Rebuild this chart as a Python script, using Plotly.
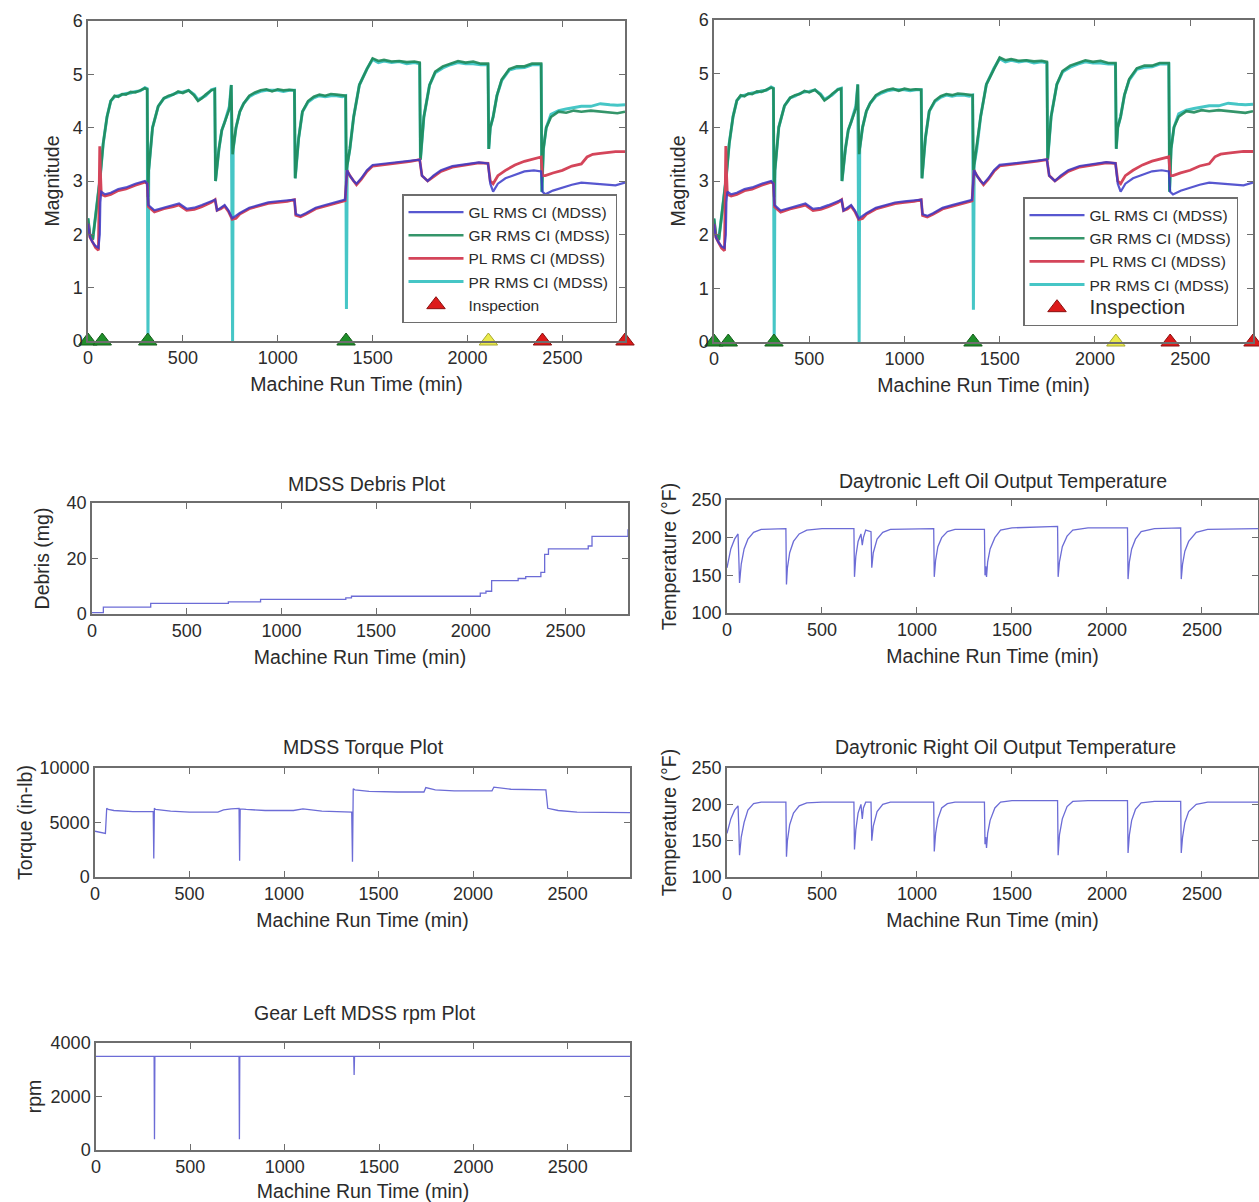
import plotly.graph_objects as go

# ---------------- data ----------------
# Gear / pinion RMS condition indicators, upper pair (GR, PR), one run cycle per line
UPPER_T = ([0, 10, 25, 40, 55, 65, 80, 100, 120, 140, 160, 180, 200, 225, 250, 275, 300, 312]
           + [316, 320, 340, 370, 400, 425, 450, 475, 500, 530, 560, 580, 600, 620, 640, 650, 668]
           + [672, 690, 705, 720, 735, 745, 755, 762]
           + [765, 780, 800, 820, 850, 880, 910, 940, 970, 1000, 1030, 1060, 1088]
           + [1092, 1110, 1130, 1160, 1190, 1220, 1250, 1280, 1310, 1340, 1358]
           + [1362, 1366, 1380, 1400, 1430, 1470, 1500, 1530, 1560, 1600, 1640, 1680, 1720, 1748]
           + [1752, 1770, 1800, 1830, 1870, 1910, 1950, 1990, 2030, 2070, 2108]
           + [2112, 2120, 2135, 2155, 2180, 2220, 2260, 2300, 2340, 2388]
           + [2392, 2400, 2415, 2440, 2480, 2520, 2560, 2600, 2650, 2700, 2750, 2790, 2830])
GR_Y = ([2.3, 2.0, 1.9, 2.3, 2.8, 3.1, 3.7, 4.2, 4.5, 4.6, 4.58, 4.63, 4.62, 4.67, 4.66, 4.7, 4.74, 4.72]
        + [2.7, 3.2, 4.0, 4.4, 4.55, 4.6, 4.62, 4.68, 4.65, 4.7, 4.6, 4.5, 4.55, 4.62, 4.68, 4.7, 4.72]
        + [3.0, 3.6, 3.95, 4.1, 4.25, 4.35, 4.8, 3.5]
        + [3.6, 4.0, 4.3, 4.45, 4.6, 4.66, 4.7, 4.72, 4.68, 4.72, 4.7, 4.71, 4.7]
        + [3.05, 3.8, 4.3, 4.5, 4.58, 4.62, 4.6, 4.63, 4.62, 4.6, 4.6]
        + [3.2, 3.3, 3.6, 4.2, 4.8, 5.1, 5.3, 5.25, 5.27, 5.24, 5.25, 5.23, 5.24, 5.22]
        + [3.4, 4.2, 4.8, 5.05, 5.15, 5.2, 5.25, 5.22, 5.24, 5.2, 5.2]
        + [3.6, 4.0, 4.2, 4.6, 4.9, 5.1, 5.15, 5.15, 5.2, 5.2]
        + [2.8, 3.6, 4.0, 4.2, 4.3, 4.28, 4.32, 4.3, 4.32, 4.3, 4.28, 4.27, 4.3])
PR_Y = ([2.3, 2.0, 1.9, 2.3, 2.8, 3.1, 3.7, 4.2, 4.5, 4.58, 4.6, 4.62, 4.64, 4.65, 4.68, 4.69, 4.75, 4.73]
        + [0.0, 3.2, 4.0, 4.4, 4.55, 4.58, 4.63, 4.66, 4.67, 4.7, 4.62, 4.52, 4.56, 4.6, 4.67, 4.71, 4.73]
        + [3.0, 3.6, 3.95, 4.1, 4.28, 4.4, 4.8, 0.0]
        + [3.6, 4.0, 4.3, 4.45, 4.58, 4.64, 4.68, 4.7, 4.7, 4.7, 4.68, 4.7, 4.7]
        + [3.05, 3.8, 4.3, 4.48, 4.56, 4.6, 4.58, 4.6, 4.6, 4.58, 4.6]
        + [0.6, 3.3, 3.6, 4.2, 4.8, 5.1, 5.28, 5.22, 5.25, 5.22, 5.24, 5.2, 5.22, 5.2]
        + [3.4, 4.2, 4.8, 5.03, 5.12, 5.18, 5.22, 5.2, 5.2, 5.18, 5.18]
        + [3.6, 4.0, 4.2, 4.6, 4.88, 5.08, 5.12, 5.13, 5.18, 5.18]
        + [2.8, 3.6, 4.0, 4.25, 4.32, 4.35, 4.38, 4.4, 4.4, 4.45, 4.43, 4.42, 4.43])

# Lower pair: GL, PL
LOWER_T = [0, 10, 25, 40, 55, 62, 65, 70, 90, 120, 160, 200, 250, 300, 312,
           318, 350, 400, 450, 480, 520, 560, 600, 650, 670,
           680, 700, 720, 740, 760, 780, 800, 850, 900, 950, 1000, 1050, 1088,
           1095, 1120, 1150, 1200, 1250, 1300, 1355,
           1365, 1380, 1400, 1415, 1440, 1470, 1500, 1550, 1600, 1700, 1748,
           1760, 1790, 1820, 1860, 1920, 2000, 2060, 2108,
           2120, 2135, 2160, 2200, 2250, 2300, 2350, 2388,
           2395, 2410, 2450, 2500, 2550, 2600, 2630, 2660, 2700, 2780, 2830]
GL_Y = [2.2, 1.95, 1.85, 1.78, 1.75, 2.0, 2.6, 2.8, 2.75, 2.78, 2.85, 2.88, 2.95, 3.0, 2.95,
        2.55, 2.45, 2.5, 2.55, 2.58, 2.48, 2.5, 2.55, 2.62, 2.65,
        2.45, 2.5, 2.55, 2.45, 2.3, 2.35, 2.4, 2.5, 2.55, 2.6, 2.62, 2.63, 2.65,
        2.38, 2.35, 2.4, 2.5, 2.55, 2.6, 2.65,
        3.2, 3.1, 3.0, 2.95, 3.05, 3.2, 3.3, 3.32, 3.35, 3.38, 3.4,
        3.1, 3.0, 3.1, 3.2, 3.28, 3.32, 3.35, 3.33,
        2.95, 2.8, 2.95, 3.05, 3.12, 3.18, 3.2, 3.18,
        2.8, 2.75, 2.82, 2.88, 2.93, 2.97, 2.96, 2.95, 2.95, 2.92, 2.97]
PL_Y = [2.2, 1.95, 1.85, 1.75, 1.7, 3.65, 3.2, 2.75, 2.72, 2.75, 2.82, 2.85, 2.92, 2.98, 2.95,
        2.52, 2.42, 2.48, 2.52, 2.55, 2.45, 2.47, 2.52, 2.6, 2.65,
        2.45, 2.48, 2.53, 2.43, 2.28, 2.3, 2.38, 2.48, 2.53, 2.58, 2.6, 2.62, 2.65,
        2.36, 2.33, 2.38, 2.48, 2.53, 2.58, 2.63,
        3.2, 3.1, 3.0, 2.93, 3.03, 3.18, 3.28, 3.3, 3.33, 3.37, 3.4,
        3.1, 3.0, 3.08, 3.18, 3.26, 3.3, 3.34, 3.33,
        3.0, 2.95, 3.1, 3.2, 3.3, 3.37, 3.42, 3.45,
        3.1, 3.1, 3.15, 3.2, 3.28, 3.32, 3.45, 3.5, 3.52, 3.55, 3.55]

assert len(UPPER_T) == len(GR_Y) == len(PR_Y)
assert len(LOWER_T) == len(GL_Y) == len(PL_Y)

# Inspection events along the time axis
GOOD_T = [0, 75, 315, 1360]
CAUTION_T = [2110]
INSPECT_T = [2395, 2830]

# Debris accumulation (mg), step changes
DEBRIS_T = [0, 60, 310, 720, 890, 1340, 1370, 2050, 2080, 2110, 2250, 2290, 2370,
            2390, 2410, 2620, 2640, 2815, 2830]
DEBRIS = [0.5, 2.5, 3.8, 4.4, 5.3, 5.8, 6.4, 7.5, 8.2, 12, 12.8, 13.5, 15,
          21.5, 23.5, 24.5, 28, 28, 30.5]

# Daytronic oil output temperatures (deg F)
TEMP_T = [0, 20, 40, 58, 62, 66, 75, 90, 110, 140, 180, 310,
          313, 318, 330, 350, 380, 420, 500, 668,
          671, 678, 690, 705, 712, 718, 730, 758, 762, 770, 790, 820, 860, 1088,
          1091, 1098, 1110, 1130, 1160, 1200, 1355,
          1358, 1362, 1366, 1372, 1385, 1410, 1440, 1500, 1740,
          1743, 1750, 1765, 1790, 1820, 1900, 2108,
          2111, 2118, 2130, 2150, 2180, 2250, 2388,
          2391, 2398, 2410, 2430, 2470, 2530, 2830]
TEMP_LEFT = [160, 185, 198, 205, 175, 140, 165, 185, 198, 207, 211, 212,
             138, 160, 180, 195, 205, 210, 212, 212,
             148, 175, 195, 205, 190, 200, 210, 208, 160, 180, 198, 207, 211, 212,
             148, 170, 188, 200, 208, 211, 211,
             150, 162, 148, 168, 185, 200, 210, 213, 215,
             148, 168, 188, 202, 210, 213, 213,
             145, 168, 185, 198, 208, 212, 213,
             145, 165, 182, 195, 207, 211, 212]
TEMP_RIGHT = [160, 180, 192, 198, 170, 130, 155, 175, 192, 201, 203, 203,
              128, 150, 172, 188, 198, 202, 203, 203,
              138, 165, 188, 200, 180, 195, 203, 203, 150, 170, 190, 200, 203, 203,
              135, 160, 180, 195, 201, 203, 203,
              145, 155, 140, 160, 178, 195, 203, 205, 205,
              130, 158, 180, 197, 204, 205, 205,
              133, 158, 178, 193, 202, 204, 204,
              133, 155, 175, 190, 200, 203, 203]

# Torque (in-lb)
TORQUE_T = [0, 55, 62, 70, 100, 200, 308, 311, 314, 320, 400, 500, 650, 680, 720,
            762, 765, 768, 800, 900, 1050, 1100, 1200, 1300, 1358, 1362, 1366,
            1375, 1450, 1600, 1740, 1750, 1800, 1900, 2100, 2110, 2200, 2385,
            2395, 2450, 2550, 2830]
TORQUE = [4200, 4000, 6300, 6200, 6100, 6000, 6000, 1700, 6300, 6200, 6050, 5950,
          5950, 6150, 6250, 6300, 1500, 6250, 6200, 6100, 6100, 6250, 6050, 5950,
          5950, 1400, 8100, 8000, 7850, 7800, 7800, 8200, 8000, 7900, 7900, 8250,
          8050, 8000, 6300, 6100, 5950, 5900]

# Gear left shaft speed (rpm)
RPM_T = [0, 308, 310, 312, 758, 760, 762, 1366, 1368, 1370, 2830]
RPM = [3500, 3500, 400, 3500, 3500, 400, 3500, 3500, 2800, 3500, 3500]

X_TICKS = [0, 500, 1000, 1500, 2000, 2500]

# ---------------- styling ----------------
W, H = 1259, 1202
FONT = "Liberation Sans, Arial, sans-serif"
TXT = "#2b2b2b"
AX = "#6e6e6e"
C_GL = "#3a3ac8"
C_GR = "#1f8a5a"
C_PL = "#d4455a"
C_PR = "#46c6c6"
C_ONE = "#6c6cd6"
TICK_SZ = 18
TITLE_SZ = 19.5


def dx(a, b):
    return [a / W, b / W]


def dy(top, bottom):
    return [1 - bottom / H, 1 - top / H]


fig = go.Figure()

# panel geometry (pixels): x0, x1, y_top, y_bottom, xmax, y-title standoff
PANELS = {
    1: (88, 625, 21, 341, 2830, 8),
    2: (714, 1253, 20, 342, 2830, 8),
    3: (92, 628, 503, 614, 2830, 12),
    4: (727, 1258, 500, 613, 2795, 10),
    5: (95, 630, 768, 877, 2830, 2),
    6: (727, 1258, 768, 877, 2795, 10),
    7: (96, 630, 1043, 1150, 2830, 4),
}

Y_SETUP = {
    1: ([0, 6], [0, 1, 2, 3, 4, 5, 6], "Magnitude"),
    2: ([0, 6], [0, 1, 2, 3, 4, 5, 6], "Magnitude"),
    3: ([0, 40], [0, 20, 40], "Debris (mg)"),
    4: ([100, 250], [100, 150, 200, 250], "Temperature (°F)"),
    5: ([0, 10000], [0, 5000, 10000], "Torque (in-lb)"),
    6: ([100, 250], [100, 150, 200, 250], "Temperature (°F)"),
    7: ([0, 4000], [0, 2000, 4000], "rpm"),
}

for i, (x0, x1, yt, yb, xmax, ystand) in PANELS.items():
    sfx = "" if i == 1 else str(i)
    yr, yticks, ytitle = Y_SETUP[i]
    fig.layout["xaxis" + sfx] = dict(
        domain=dx(x0, x1), anchor="y" + sfx, range=[0, xmax],
        tickvals=X_TICKS, ticks="inside", ticklen=6, tickcolor=AX,
        showline=True, linecolor=AX, linewidth=1.5, mirror="ticks",
        showgrid=False, zeroline=False, automargin=False,
        tickfont=dict(size=TICK_SZ, color=TXT),
        title=dict(text="Machine Run Time (min)", font=dict(size=TITLE_SZ, color=TXT), standoff=10),
    )
    fig.layout["yaxis" + sfx] = dict(
        domain=dy(yt, yb), anchor="x" + sfx, range=yr,
        tickvals=yticks, tickformat="d", ticks="inside", ticklen=6, tickcolor=AX,
        showline=True, linecolor=AX, linewidth=1.5, mirror="ticks",
        showgrid=False, zeroline=False, automargin=False,
        tickfont=dict(size=TICK_SZ, color=TXT),
        title=dict(text=ytitle, font=dict(size=TITLE_SZ, color=TXT), standoff=ystand),
    )

# ---- magnitude panels (two copies) ----
for i, leg in ((1, "legend"), (2, "legend2")):
    xa = "x" if i == 1 else "x%d" % i
    ya = "y" if i == 1 else "y%d" % i
    common = dict(xaxis=xa, yaxis=ya, mode="lines", legend=leg)
    fig.add_trace(go.Scatter(x=UPPER_T, y=PR_Y, name="PR RMS CI (MDSS)", legendrank=4,
                             line=dict(color=C_PR, width=3), **common))
    fig.add_trace(go.Scatter(x=UPPER_T, y=GR_Y, name="GR RMS CI (MDSS)", legendrank=2,
                             line=dict(color=C_GR, width=2.6), opacity=0.9, **common))
    fig.add_trace(go.Scatter(x=LOWER_T, y=PL_Y, name="PL RMS CI (MDSS)", legendrank=3,
                             line=dict(color=C_PL, width=2.8), **common))
    fig.add_trace(go.Scatter(x=LOWER_T, y=GL_Y, name="GL RMS CI (MDSS)", legendrank=1,
                             line=dict(color=C_GL, width=2.2), opacity=0.85, **common))
    fig.add_trace(go.Scatter(x=GOOD_T, y=[0] * len(GOOD_T), xaxis=xa, yaxis=ya, mode="markers",
                             showlegend=False, cliponaxis=False, legend=leg,
                             marker=dict(color="#1f8f2a", symbol="triangle-up", size=16,
                                         line=dict(color="#145c1a", width=1))))
    fig.add_trace(go.Scatter(x=CAUTION_T, y=[0] * len(CAUTION_T), xaxis=xa, yaxis=ya, mode="markers",
                             showlegend=False, cliponaxis=False, legend=leg,
                             marker=dict(color="#eaea4a", symbol="triangle-up", size=16,
                                         line=dict(color="#a8a830", width=1))))
    insp_name = "Inspection" if i == 1 else "<span style='font-size:21px'>Inspection</span>"
    fig.add_trace(go.Scatter(x=INSPECT_T, y=[0] * len(INSPECT_T), xaxis=xa, yaxis=ya, mode="markers",
                             name=insp_name, legendrank=5, cliponaxis=False, legend=leg,
                             marker=dict(color="#dd1a1a", symbol="triangle-up", size=16,
                                         line=dict(color="#8a1010", width=1))))

legend_common = dict(
    xanchor="right", yanchor="bottom", bgcolor="white",
    bordercolor=AX, borderwidth=1.5, itemwidth=55,
    font=dict(size=15.5, color=TXT), tracegroupgap=0,
    xref="paper", yref="paper",
)
fig.update_layout(
    legend=dict(x=617 / W, y=1 - 323 / H, **legend_common),
    legend2=dict(x=1238 / W, y=1 - 326 / H, **legend_common),
)

# ---- single-series panels ----
fig.add_trace(go.Scatter(x=DEBRIS_T, y=DEBRIS, xaxis="x3", yaxis="y3", mode="lines",
                         line=dict(color=C_ONE, width=1.3, shape="hv"), showlegend=False))
fig.add_trace(go.Scatter(x=TEMP_T, y=TEMP_LEFT, xaxis="x4", yaxis="y4", mode="lines",
                         line=dict(color=C_ONE, width=1.3), showlegend=False))
fig.add_trace(go.Scatter(x=TORQUE_T, y=TORQUE, xaxis="x5", yaxis="y5", mode="lines",
                         line=dict(color=C_ONE, width=1.3), showlegend=False))
fig.add_trace(go.Scatter(x=TEMP_T, y=TEMP_RIGHT, xaxis="x6", yaxis="y6", mode="lines",
                         line=dict(color=C_ONE, width=1.3), showlegend=False))
fig.add_trace(go.Scatter(x=RPM_T, y=RPM, xaxis="x7", yaxis="y7", mode="lines",
                         line=dict(color=C_ONE, width=1.3), showlegend=False))

# panel titles
TITLES = [
    ("MDSS Debris Plot", 367, 484),
    ("Daytronic Left Oil Output Temperature", 1003, 481),
    ("MDSS Torque Plot", 363, 747),
    ("Daytronic Right Oil Output Temperature", 1005, 747),
    ("Gear Left MDSS rpm Plot", 365, 1013),
]
for text, px, py in TITLES:
    fig.add_annotation(text=text, x=px / W, y=1 - py / H, xref="paper", yref="paper",
                       showarrow=False, xanchor="center", yanchor="middle",
                       font=dict(size=TITLE_SZ, color=TXT))

fig.update_layout(
    width=W, height=H,
    margin=dict(l=0, r=0, t=0, b=0),
    paper_bgcolor="white", plot_bgcolor="white",
    font=dict(family=FONT, color=TXT),
)

fig.write_html("out.html")
